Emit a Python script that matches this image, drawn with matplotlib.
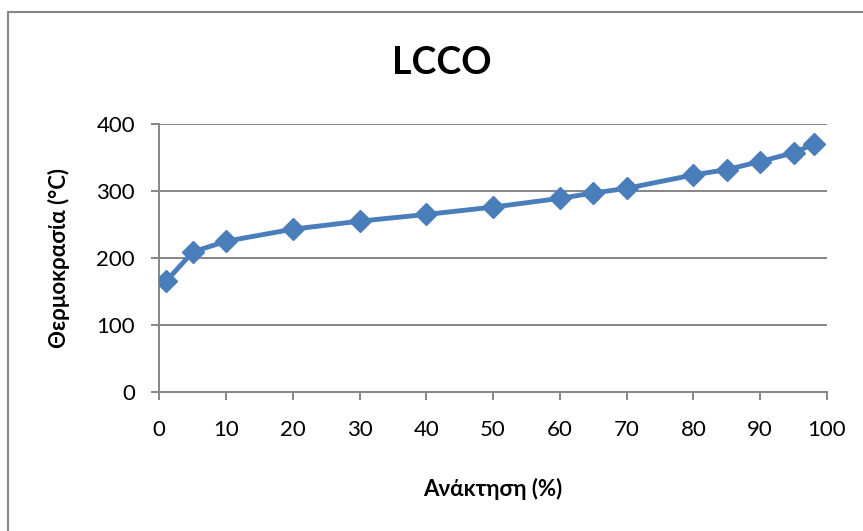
import matplotlib.pyplot as plt
from matplotlib.patches import Rectangle

# Ανάκτηση (%) και θερμοκρασία (°C) για LCCO
anaktisi = [1, 5, 10, 20, 30, 40, 50, 60, 65, 70, 80, 85, 90, 95, 98]
thermokrasia = [165, 209, 225, 243, 255, 265, 276, 289, 297, 304, 324, 332, 344, 357, 370]

x_ticks = [0, 10, 20, 30, 40, 50, 60, 70, 80, 90, 100]
y_ticks = [0, 100, 200, 300, 400]

plt.rcParams['font.family'] = ['Lato', 'DejaVu Sans']
grey = '#868686'
blue = '#4a7ebb'

W, H = 863, 531
fig = plt.figure(figsize=(W / 100, H / 100), dpi=100)

# πλαίσιο γύρω από το διάγραμμα
fig.patches.append(Rectangle((7.5 / W, -0.05), 1.0, 1 - 12 / H + 0.05,
                             transform=fig.transFigure, fill=False,
                             edgecolor=grey, linewidth=1.5))

x0, x1, y0, y1 = 159.3, 827.0, 124.0, 392.0
ax = fig.add_axes([x0 / W, 1 - y1 / H, (x1 - x0) / W, (y1 - y0) / H])

ax.plot(anaktisi, thermokrasia, color=blue, linewidth=3.5, marker='D',
        markersize=11.5, markerfacecolor=blue, markeredgecolor=blue, zorder=3)

ax.set_xlim(0, 100)
ax.set_ylim(0, 400)
ax.set_xticks(x_ticks)
ax.set_yticks(y_ticks)

ax.grid(axis='y', color=grey, linewidth=1.4)
ax.set_axisbelow(True)
for side in ['top', 'right']:
    ax.spines[side].set_visible(False)
for side in ['left', 'bottom']:
    ax.spines[side].set_color(grey)
    ax.spines[side].set_linewidth(1.4)

ax.tick_params(axis='both', colors=grey, labelcolor='black', labelsize=16,
               length=5.5, width=1.4)
ax.tick_params(axis='x', pad=15)
ax.tick_params(axis='y', pad=12)

ax.set_xlabel('Ανάκτηση (%)', fontsize=16, fontweight='bold')
ax.set_ylabel('Θερμοκρασία (°C)', fontsize=16, fontweight='bold')
ax.xaxis.set_label_coords((492.5 - x0) / (x1 - x0), (y1 - 478) / (y1 - y0))
ax.yaxis.set_label_coords((70 - x0) / (x1 - x0), 0.5)

fig.text(441.5 / W, 1 - 62.5 / H, 'LCCO', fontsize=27, fontweight='bold',
         ha='center', va='center')

fig.savefig('out.png', dpi=100)
